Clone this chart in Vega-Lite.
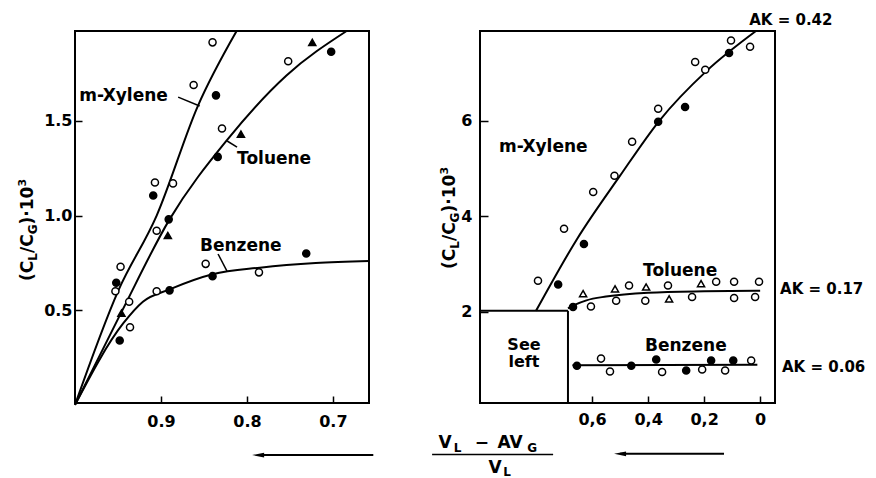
{
  "$schema": "https://vega.github.io/schema/vega-lite/v6.json",
  "padding": {"left": 15, "top": 12, "right": 0, "bottom": 0},
  "background": "white",
  "spacing": 111,
  "bounds": "flush",
  "resolve": {"scale": {"x": "independent", "y": "independent"}},
  "config": {
    "view": {"stroke": "black", "strokeWidth": 2},
    "axis": {"grid": false, "domain": false, "ticks": true, "tickColor": "black", "tickWidth": 1.5, "labelFont": "DejaVu Sans", "labelFontWeight": "bold", "labelFontSize": 16, "labelColor": "black"},
    "text": {"font": "DejaVu Sans", "fontWeight": "bold", "color": "black"}
  },
  "datasets": {
    "leftPts": [
      {"x": 0.840, "y": 1.915, "series": "m-Xylene", "marker": "open circle"},
      {"x": 0.862, "y": 1.69, "series": "m-Xylene", "marker": "open circle"},
      {"x": 0.907, "y": 1.175, "series": "m-Xylene", "marker": "open circle"},
      {"x": 0.947, "y": 0.73, "series": "m-Xylene", "marker": "open circle"},
      {"x": 0.953, "y": 0.60, "series": "m-Xylene", "marker": "open circle"},
      {"x": 0.836, "y": 1.635, "series": "m-Xylene", "marker": "filled circle"},
      {"x": 0.909, "y": 1.106, "series": "m-Xylene", "marker": "filled circle"},
      {"x": 0.952, "y": 0.645, "series": "m-Xylene", "marker": "filled circle"},
      {"x": 0.886, "y": 1.17, "series": "Toluene", "marker": "open circle"},
      {"x": 0.905, "y": 0.92, "series": "Toluene", "marker": "open circle"},
      {"x": 0.752, "y": 1.815, "series": "Toluene", "marker": "open circle"},
      {"x": 0.829, "y": 1.46, "series": "Toluene", "marker": "open circle"},
      {"x": 0.937, "y": 0.545, "series": "Toluene", "marker": "open circle"},
      {"x": 0.891, "y": 0.98, "series": "Toluene", "marker": "filled circle"},
      {"x": 0.702, "y": 1.865, "series": "Toluene", "marker": "filled circle"},
      {"x": 0.834, "y": 1.31, "series": "Toluene", "marker": "filled circle"},
      {"x": 0.892, "y": 0.895, "series": "Toluene", "marker": "filled triangle"},
      {"x": 0.724, "y": 1.915, "series": "Toluene", "marker": "filled triangle"},
      {"x": 0.807, "y": 1.43, "series": "Toluene", "marker": "filled triangle"},
      {"x": 0.946, "y": 0.485, "series": "Toluene", "marker": "filled triangle"},
      {"x": 0.848, "y": 0.745, "series": "Benzene", "marker": "open circle"},
      {"x": 0.786, "y": 0.70, "series": "Benzene", "marker": "open circle"},
      {"x": 0.905, "y": 0.60, "series": "Benzene", "marker": "open circle"},
      {"x": 0.936, "y": 0.41, "series": "Benzene", "marker": "open circle"},
      {"x": 0.731, "y": 0.80, "series": "Benzene", "marker": "filled circle"},
      {"x": 0.840, "y": 0.68, "series": "Benzene", "marker": "filled circle"},
      {"x": 0.890, "y": 0.605, "series": "Benzene", "marker": "filled circle"},
      {"x": 0.948, "y": 0.34, "series": "Benzene", "marker": "filled circle"}
    ],
    "leftCurves": [
      {"x": 1.0, "y": 0.0, "series": "m-Xylene"},
      {"x": 0.95, "y": 0.6, "series": "m-Xylene"},
      {"x": 0.905, "y": 1.0, "series": "m-Xylene"},
      {"x": 0.857, "y": 1.58, "series": "m-Xylene"},
      {"x": 0.812, "y": 1.975, "series": "m-Xylene"},
      {"x": 1.0, "y": 0.0, "series": "Toluene"},
      {"x": 0.946, "y": 0.49, "series": "Toluene"},
      {"x": 0.89, "y": 0.98, "series": "Toluene"},
      {"x": 0.823, "y": 1.40, "series": "Toluene"},
      {"x": 0.754, "y": 1.74, "series": "Toluene"},
      {"x": 0.684, "y": 1.975, "series": "Toluene"},
      {"x": 1.0, "y": 0.0, "series": "Benzene"},
      {"x": 0.944, "y": 0.43, "series": "Benzene"},
      {"x": 0.921, "y": 0.545, "series": "Benzene"},
      {"x": 0.89, "y": 0.61, "series": "Benzene"},
      {"x": 0.84, "y": 0.69, "series": "Benzene"},
      {"x": 0.785, "y": 0.725, "series": "Benzene"},
      {"x": 0.72, "y": 0.75, "series": "Benzene"},
      {"x": 0.658, "y": 0.76, "series": "Benzene"}
    ],
    "leftLeaders": [
      {"x": 0.880, "y": 1.626, "x2": 0.855, "y2": 1.579},
      {"x": 0.8115, "y": 1.362, "x2": 0.823, "y2": 1.394},
      {"x": 0.8336, "y": 0.797, "x2": 0.8232, "y2": 0.707}
    ],
    "leftLabels": [
      {"x": 0.995, "y": 1.632, "label": "m-Xylene"},
      {"x": 0.8115, "y": 1.299, "label": "Toluene"},
      {"x": 0.8546, "y": 0.839, "label": "Benzene"}
    ],
    "leftTitleMain": [
      {"x": 1.0489, "y": 0.654, "label": "(C"},
      {"x": 1.0489, "y": 0.802, "label": "/C"},
      {"x": 1.0489, "y": 0.953, "label": ")·10"}
    ],
    "leftTitleSub": [
      {"x": 1.0489, "y": 0.762, "label": "L"},
      {"x": 1.0489, "y": 0.901, "label": "G"}
    ],
    "leftTitleSup": [
      {"x": 1.0489, "y": 1.153, "label": "3"}
    ],
    "leftArrow": [
      {"x": 0.787, "x2": 0.653, "y": -0.265}
    ],
    "rightPts": [
      {"x": 0.70, "y": 3.74, "series": "m-Xylene", "marker": "open circle"},
      {"x": 0.596, "y": 4.51, "series": "m-Xylene", "marker": "open circle"},
      {"x": 0.52, "y": 4.85, "series": "m-Xylene", "marker": "open circle"},
      {"x": 0.457, "y": 5.56, "series": "m-Xylene", "marker": "open circle"},
      {"x": 0.364, "y": 6.25, "series": "m-Xylene", "marker": "open circle"},
      {"x": 0.232, "y": 7.23, "series": "m-Xylene", "marker": "open circle"},
      {"x": 0.196, "y": 7.07, "series": "m-Xylene", "marker": "open circle"},
      {"x": 0.104, "y": 7.68, "series": "m-Xylene", "marker": "open circle"},
      {"x": 0.036, "y": 7.55, "series": "m-Xylene", "marker": "open circle"},
      {"x": 0.793, "y": 2.65, "series": "m-Xylene", "marker": "open circle"},
      {"x": 0.364, "y": 5.98, "series": "m-Xylene", "marker": "filled circle"},
      {"x": 0.268, "y": 6.29, "series": "m-Xylene", "marker": "filled circle"},
      {"x": 0.111, "y": 7.42, "series": "m-Xylene", "marker": "filled circle"},
      {"x": 0.629, "y": 3.42, "series": "m-Xylene", "marker": "filled circle"},
      {"x": 0.721, "y": 2.57, "series": "m-Xylene", "marker": "filled circle"},
      {"x": 0.668, "y": 2.10, "series": "Toluene", "marker": "filled circle"},
      {"x": 0.632, "y": 2.38, "series": "Toluene", "marker": "open triangle"},
      {"x": 0.518, "y": 2.48, "series": "Toluene", "marker": "open triangle"},
      {"x": 0.407, "y": 2.52, "series": "Toluene", "marker": "open triangle"},
      {"x": 0.325, "y": 2.27, "series": "Toluene", "marker": "open triangle"},
      {"x": 0.211, "y": 2.59, "series": "Toluene", "marker": "open triangle"},
      {"x": 0.604, "y": 2.11, "series": "Toluene", "marker": "open circle"},
      {"x": 0.514, "y": 2.23, "series": "Toluene", "marker": "open circle"},
      {"x": 0.468, "y": 2.55, "series": "Toluene", "marker": "open circle"},
      {"x": 0.41, "y": 2.23, "series": "Toluene", "marker": "open circle"},
      {"x": 0.329, "y": 2.55, "series": "Toluene", "marker": "open circle"},
      {"x": 0.243, "y": 2.31, "series": "Toluene", "marker": "open circle"},
      {"x": 0.157, "y": 2.63, "series": "Toluene", "marker": "open circle"},
      {"x": 0.093, "y": 2.63, "series": "Toluene", "marker": "open circle"},
      {"x": 0.093, "y": 2.29, "series": "Toluene", "marker": "open circle"},
      {"x": 0.004, "y": 2.63, "series": "Toluene", "marker": "open circle"},
      {"x": 0.018, "y": 2.31, "series": "Toluene", "marker": "open circle"},
      {"x": 0.654, "y": 0.87, "series": "Benzene", "marker": "filled circle"},
      {"x": 0.46, "y": 0.87, "series": "Benzene", "marker": "filled circle"},
      {"x": 0.371, "y": 1.00, "series": "Benzene", "marker": "filled circle"},
      {"x": 0.264, "y": 0.77, "series": "Benzene", "marker": "filled circle"},
      {"x": 0.175, "y": 0.98, "series": "Benzene", "marker": "filled circle"},
      {"x": 0.096, "y": 0.98, "series": "Benzene", "marker": "filled circle"},
      {"x": 0.568, "y": 1.02, "series": "Benzene", "marker": "open circle"},
      {"x": 0.536, "y": 0.75, "series": "Benzene", "marker": "open circle"},
      {"x": 0.35, "y": 0.74, "series": "Benzene", "marker": "open circle"},
      {"x": 0.207, "y": 0.79, "series": "Benzene", "marker": "open circle"},
      {"x": 0.125, "y": 0.77, "series": "Benzene", "marker": "open circle"},
      {"x": 0.032, "y": 0.98, "series": "Benzene", "marker": "open circle"}
    ],
    "rightCurves": [
      {"x": 0.80, "y": 2.02, "series": "m-Xylene"},
      {"x": 0.654, "y": 3.52, "series": "m-Xylene"},
      {"x": 0.5, "y": 4.85, "series": "m-Xylene"},
      {"x": 0.36, "y": 6.0, "series": "m-Xylene"},
      {"x": 0.19, "y": 7.05, "series": "m-Xylene"},
      {"x": 0.015, "y": 7.88, "series": "m-Xylene"},
      {"x": 0.686, "y": 2.07, "series": "Toluene"},
      {"x": 0.66, "y": 2.15, "series": "Toluene"},
      {"x": 0.62, "y": 2.24, "series": "Toluene"},
      {"x": 0.55, "y": 2.32, "series": "Toluene"},
      {"x": 0.4, "y": 2.40, "series": "Toluene"},
      {"x": 0.2, "y": 2.43, "series": "Toluene"},
      {"x": 0.0, "y": 2.44, "series": "Toluene"},
      {"x": 0.67, "y": 0.88, "series": "Benzene"},
      {"x": 0.01, "y": 0.89, "series": "Benzene"}
    ],
    "rightBox": [
      {"x": 1.0, "x2": 0.686, "y": 2.02, "y2": 2.02},
      {"x": 0.686, "x2": 0.686, "y": 2.02, "y2": 0.09}
    ],
    "rightLabels": [
      {"x": 0.932, "y": 5.45, "label": "m-Xylene"},
      {"x": 0.418, "y": 2.854, "label": "Toluene"},
      {"x": 0.411, "y": 1.284, "label": "Benzene"}
    ],
    "akLabels": [
      {"x": 0.039, "y": 8.11, "label": "AK = 0.42"},
      {"x": -0.071, "y": 2.477, "label": "AK = 0.17"},
      {"x": -0.078, "y": 0.844, "label": "AK = 0.06"}
    ],
    "rightCenterLabels": [
      {"x": 0.843, "y": 1.30, "label": "See"},
      {"x": 0.843, "y": 0.94, "label": "left"}
    ],
    "rightTitleMain": [
      {"x": 1.089, "y": 2.896, "label": "(C"},
      {"x": 1.089, "y": 3.481, "label": "/C"},
      {"x": 1.089, "y": 4.080, "label": ")·10"}
    ],
    "rightTitleSub": [
      {"x": 1.089, "y": 3.321, "label": "L"},
      {"x": 1.089, "y": 3.872, "label": "G"}
    ],
    "rightTitleSup": [
      {"x": 1.089, "y": 4.873, "label": "3"}
    ],
    "fracMain": [
      {"x": 1.125, "y": -0.853, "label": "V"},
      {"x": 0.993, "y": -0.853, "label": "−"},
      {"x": 0.893, "y": -0.853, "label": "AV"},
      {"x": 0.946, "y": -1.38, "label": "V"}
    ],
    "fracSub": [
      {"x": 1.080, "y": -0.937, "label": "L"},
      {"x": 0.814, "y": -0.937, "label": "G"},
      {"x": 0.903, "y": -1.44, "label": "L"}
    ],
    "fracBar": [
      {"x": 1.171, "x2": 0.739, "y": -0.99}
    ],
    "rightArrow": [
      {"x": 0.5, "x2": 0.129, "y": -0.974}
    ]
  },
  "hconcat": [
    {
      "width": 294,
      "height": 372,
      "encoding": {
        "x": {"field": "x", "type": "quantitative", "scale": {"domain": [1.0, 0.658], "nice": false, "zero": false}, "axis": {"values": [0.9, 0.8, 0.7], "format": ".1f", "tickSize": -7, "labelPadding": 17, "title": null}},
        "y": {"field": "y", "type": "quantitative", "scale": {"domain": [0.01, 1.975], "nice": false, "zero": false}, "axis": {"values": [0.5, 1.0, 1.5], "format": ".1f", "tickSize": -7, "labelPadding": 10, "title": null}}
      },
      "layer": [
        {"data": {"name": "leftCurves"}, "mark": {"type": "line", "color": "black", "strokeWidth": 2, "interpolate": "monotone"}, "encoding": {"detail": {"field": "series"}}},
        {"data": {"name": "leftLeaders"}, "mark": {"type": "rule", "color": "black", "strokeWidth": 1.5}, "encoding": {"x2": {"field": "x2"}, "y2": {"field": "y2"}}},
        {"data": {"name": "leftPts"}, "mark": {"type": "point", "filled": true, "stroke": "black", "strokeWidth": 1.5, "size": 50, "opacity": 1},
         "encoding": {
           "shape": {"field": "marker", "type": "nominal", "scale": {"domain": ["open circle", "filled circle", "filled triangle", "open triangle"], "range": ["circle", "circle", "triangle-up", "triangle-up"]}, "legend": null},
           "fill": {"field": "marker", "type": "nominal", "scale": {"domain": ["open circle", "filled circle", "filled triangle", "open triangle"], "range": ["white", "black", "black", "white"]}, "legend": null}
         }},
        {"data": {"name": "leftLabels"}, "mark": {"type": "text", "align": "left", "baseline": "middle", "fontSize": 17}, "encoding": {"text": {"field": "label"}}},
        {"data": {"name": "leftTitleMain"}, "mark": {"type": "text", "align": "left", "baseline": "alphabetic", "angle": 270, "fontSize": 17}, "encoding": {"text": {"field": "label"}}},
        {"data": {"name": "leftTitleSub"}, "mark": {"type": "text", "align": "left", "baseline": "alphabetic", "angle": 270, "fontSize": 12, "dy": 4}, "encoding": {"text": {"field": "label"}}},
        {"data": {"name": "leftTitleSup"}, "mark": {"type": "text", "align": "left", "baseline": "alphabetic", "angle": 270, "fontSize": 11, "dy": -7}, "encoding": {"text": {"field": "label"}}},
        {"data": {"name": "leftArrow"}, "mark": {"type": "rule", "color": "black", "strokeWidth": 2}, "encoding": {"x2": {"field": "x2"}}},
        {"data": {"name": "leftArrow"}, "mark": {"type": "point", "shape": "M-1,0L1,-0.4L1,0.4Z", "filled": true, "color": "black", "size": 144, "opacity": 1}, "encoding": {}}
      ]
    },
    {
      "width": 295,
      "height": 372,
      "encoding": {
        "x": {"field": "x", "type": "quantitative", "scale": {"domain": [1.0, -0.053], "nice": false, "zero": false}, "axis": {"values": [0.6, 0.4, 0.2, 0], "labelExpr": "datum.value == 0 ? '0' : replace(format(datum.value, '.1f'), '.', ',')", "tickSize": -7, "labelPadding": 15, "title": null}},
        "y": {"field": "y", "type": "quantitative", "scale": {"domain": [0.09, 7.88], "nice": false, "zero": false}, "axis": {"values": [2, 4, 6], "format": "d", "tickSize": -8, "labelPadding": 16, "title": null}}
      },
      "layer": [
        {"data": {"name": "rightBox"}, "mark": {"type": "rule", "color": "black", "strokeWidth": 2}, "encoding": {"x2": {"field": "x2"}, "y2": {"field": "y2"}}},
        {"data": {"name": "rightCurves"}, "mark": {"type": "line", "color": "black", "strokeWidth": 2, "interpolate": "monotone"}, "encoding": {"detail": {"field": "series"}}},
        {"data": {"name": "rightPts"}, "mark": {"type": "point", "filled": true, "stroke": "black", "strokeWidth": 1.5, "size": 50, "opacity": 1},
         "encoding": {
           "shape": {"field": "marker", "type": "nominal", "scale": {"domain": ["open circle", "filled circle", "filled triangle", "open triangle"], "range": ["circle", "circle", "triangle-up", "triangle-up"]}, "legend": null},
           "fill": {"field": "marker", "type": "nominal", "scale": {"domain": ["open circle", "filled circle", "filled triangle", "open triangle"], "range": ["white", "black", "black", "white"]}, "legend": null}
         }},
        {"data": {"name": "rightLabels"}, "mark": {"type": "text", "align": "left", "baseline": "middle", "fontSize": 17}, "encoding": {"text": {"field": "label"}}},
        {"data": {"name": "akLabels"}, "mark": {"type": "text", "align": "left", "baseline": "middle", "fontSize": 15}, "encoding": {"text": {"field": "label"}}},
        {"data": {"name": "rightCenterLabels"}, "mark": {"type": "text", "align": "center", "baseline": "middle", "fontSize": 16}, "encoding": {"text": {"field": "label"}}},
        {"data": {"name": "rightTitleMain"}, "mark": {"type": "text", "align": "left", "baseline": "alphabetic", "angle": 270, "fontSize": 17}, "encoding": {"text": {"field": "label"}}},
        {"data": {"name": "rightTitleSub"}, "mark": {"type": "text", "align": "left", "baseline": "alphabetic", "angle": 270, "fontSize": 12, "dy": 4}, "encoding": {"text": {"field": "label"}}},
        {"data": {"name": "rightTitleSup"}, "mark": {"type": "text", "align": "left", "baseline": "alphabetic", "angle": 270, "fontSize": 11, "dy": -7}, "encoding": {"text": {"field": "label"}}},
        {"data": {"name": "fracMain"}, "mark": {"type": "text", "align": "center", "baseline": "alphabetic", "fontSize": 17}, "encoding": {"text": {"field": "label"}}},
        {"data": {"name": "fracSub"}, "mark": {"type": "text", "align": "center", "baseline": "alphabetic", "fontSize": 12}, "encoding": {"text": {"field": "label"}}},
        {"data": {"name": "fracBar"}, "mark": {"type": "rule", "color": "black", "strokeWidth": 1.5}, "encoding": {"x2": {"field": "x2"}}},
        {"data": {"name": "rightArrow"}, "mark": {"type": "rule", "color": "black", "strokeWidth": 2}, "encoding": {"x2": {"field": "x2"}}},
        {"data": {"name": "rightArrow"}, "mark": {"type": "point", "shape": "M-1,0L1,-0.4L1,0.4Z", "filled": true, "color": "black", "size": 144, "opacity": 1}, "encoding": {}}
      ]
    }
  ]
}
